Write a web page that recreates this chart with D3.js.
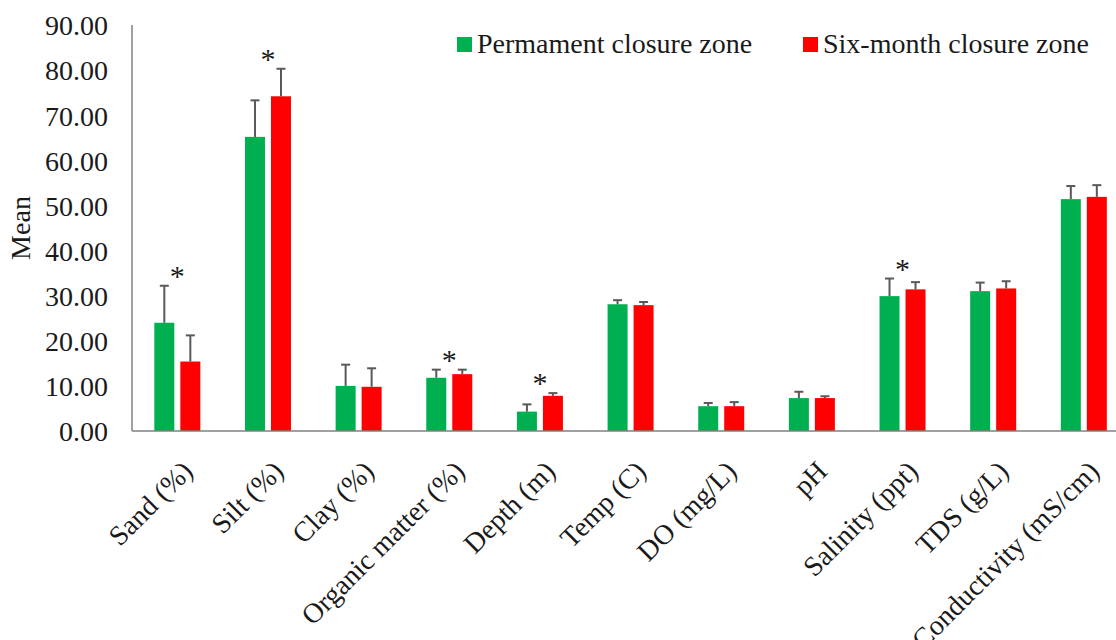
<!DOCTYPE html>
<html>
<head>
<meta charset="utf-8">
<script src="https://cdn.jsdelivr.net/npm/d3@7"></script>
<style>
  html, body { margin: 0; padding: 0; background: #fff; }
  svg text { font-family: "Liberation Serif", "Times New Roman", serif; fill: #1a1a1a; }
</style>
</head>
<body>
<svg id="chart" width="1116" height="640"></svg>
<script>
// Sediment and water-quality parameters, mean ± SD per zone
const categories = ["Sand (%)", "Silt (%)", "Clay (%)", "Organic matter (%)", "Depth (m)",
  "Temp (C)", "DO (mg/L)", "pH", "Salinity (ppt)", "TDS (g/L)", "Conductivity (mS/cm)"];
const seriesNames = ["Permament closure zone", "Six-month closure zone"];
const permanentMean = [24.0, 65.2, 10.0, 11.8, 4.3, 28.1, 5.5, 7.3, 29.9, 31.0, 51.4];
const permanentSD   = [8.2, 8.1, 4.7, 1.8, 1.6, 0.9, 0.7, 1.4, 3.9, 1.9, 2.9];
const sixMonthMean  = [15.4, 74.2, 9.8, 12.6, 7.8, 27.9, 5.5, 7.3, 31.4, 31.6, 51.9];
const sixMonthSD    = [5.8, 6.1, 4.1, 1.0, 0.6, 0.7, 0.9, 0.4, 1.6, 1.6, 2.6];
const significant   = [true, true, false, true, true, false, false, false, true, false, false];
const yTicks = [0, 10, 20, 30, 40, 50, 60, 70, 80, 90];
const colors = ["#00b050", "#ff0000"];

const svg = d3.select("#chart");
const plotLeft = 132, plotTop = 25, plotBottom = 431;
const step = 90.65;

const x0 = d3.scaleBand().domain(categories).range([plotLeft, plotLeft + step * categories.length]);
const x1 = d3.scaleBand().domain(seriesNames).range([-23, 23]).paddingInner(6 / 26);
const y = d3.scaleLinear().domain([0, 90]).range([plotBottom, plotTop]);

const rows = categories.map((c, i) => ({
  cat: c,
  sig: significant[i],
  vals: [
    { s: seriesNames[0], m: permanentMean[i], sd: permanentSD[i], col: colors[0] },
    { s: seriesNames[1], m: sixMonthMean[i], sd: sixMonthSD[i], col: colors[1] }
  ]
}));

// Y axis: tick labels only, plus a plain axis line
const yAxis = svg.append("g").attr("transform", `translate(${plotLeft},0)`)
  .call(d3.axisLeft(y).tickValues(yTicks).tickFormat(d3.format(".2f")).tickSize(0).tickPadding(24));
yAxis.select(".domain").remove();
yAxis.selectAll("text").style("font-size", "28px").attr("dy", "0.35em")
  .style("font-family", "'Liberation Serif', serif").style("fill", "#1a1a1a");
svg.append("line").attr("x1", plotLeft).attr("x2", plotLeft).attr("y1", plotTop).attr("y2", plotBottom)
  .attr("stroke", "#808080").attr("stroke-width", 1.5);

svg.append("text").attr("transform", `translate(30,${(plotTop + plotBottom) / 2}) rotate(-90)`)
  .attr("text-anchor", "middle").style("font-size", "28px").text("Mean");

// Bars
const groups = svg.append("g").selectAll("g").data(rows).join("g")
  .attr("transform", d => `translate(${x0(d.cat) + x0.bandwidth() / 2},0)`);

groups.selectAll("rect").data(d => d.vals).join("rect")
  .attr("x", d => x1(d.s)).attr("width", x1.bandwidth())
  .attr("y", d => y(d.m)).attr("height", d => y(0) - y(d.m))
  .attr("fill", d => d.col);

// Upper error bars
const eb = groups.selectAll("g.err").data(d => d.vals).join("g").attr("class", "err")
  .attr("transform", d => `translate(${x1(d.s) + x1.bandwidth() / 2},0)`);
eb.append("line").attr("x1", 0).attr("x2", 0)
  .attr("y1", d => y(d.m)).attr("y2", d => y(d.m + d.sd))
  .attr("stroke", "#595959").attr("stroke-width", 2);
eb.append("line").attr("x1", -4.5).attr("x2", 4.5)
  .attr("y1", d => y(d.m + d.sd)).attr("y2", d => y(d.m + d.sd))
  .attr("stroke", "#595959").attr("stroke-width", 2);

// Significance markers
groups.filter(d => d.sig).append("text")
  .attr("text-anchor", "middle").style("font-size", "30px")
  .attr("y", d => y(d3.max(d.vals, v => v.m + v.sd)))
  .text("*");

// X axis line
svg.append("line").attr("x1", plotLeft).attr("x2", 1116).attr("y1", plotBottom).attr("y2", plotBottom)
  .attr("stroke", "#808080").attr("stroke-width", 1.5);

// Rotated category labels
svg.append("g").selectAll("text").data(categories).join("text")
  .attr("text-anchor", "end")
  .attr("transform", d => `translate(${x0(d) + x0.bandwidth() / 2 + 17},${plotBottom + 42}) rotate(-45)`)
  .style("font-size", "28px")
  .text(d => d);

// Legend
const legend = svg.append("g");
const legendX = [457, 803];
seriesNames.forEach((s, i) => {
  legend.append("rect").attr("x", legendX[i]).attr("y", 37).attr("width", 15).attr("height", 15).attr("fill", colors[i]);
  legend.append("text").attr("x", legendX[i] + 20).attr("y", 53).style("font-size", "28px").text(s);
});
</script>
</body>
</html>
